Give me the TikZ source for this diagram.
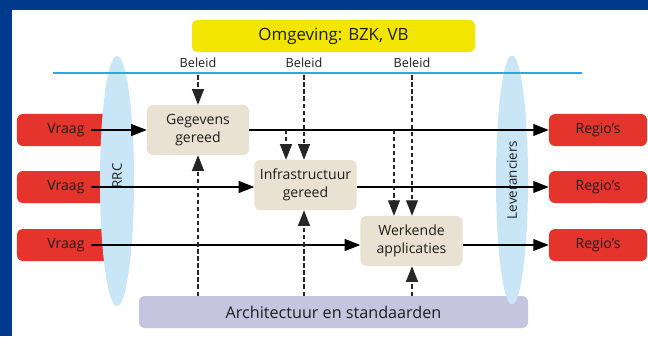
\documentclass[tikz,border=0pt]{standalone}
\usepackage{fontspec}
\setmainfont{Open Sans}
\usepackage{tikz}
\usetikzlibrary{arrows.meta, calc, positioning}

\definecolor{kader}{RGB}{0,58,140}
\definecolor{geel}{RGB}{242,230,0}
\definecolor{rood}{RGB}{228,52,44}
\definecolor{beige}{RGB}{233,226,210}
\definecolor{lichtblauw}{RGB}{200,230,246}
\definecolor{lijnblauw}{RGB}{41,169,224}
\definecolor{lila}{RGB}{197,197,224}
\definecolor{tekst}{RGB}{30,30,30}

\begin{document}
\begin{tikzpicture}[x=0.025cm, y=-0.025cm,
  stap/.style={fill=beige, rounded corners=0.15cm, minimum width=2.55cm, minimum height=1.25cm,
    align=center, text=tekst, font=\fontsize{10}{12.5}\selectfont, inner sep=0pt},
  vraagbox/.style={fill=rood, rounded corners=0.15cm, minimum width=2.45cm, minimum height=0.8cm,
    text=tekst, font=\fontsize{10}{12}\selectfont, inner sep=0pt},
  balk/.style={rounded corners=0.15cm, minimum width=7.075cm, minimum height=0.8cm, text=tekst, inner sep=0pt},
  pijl/.style={-{Triangle[length=11pt, width=8.5pt]}, line width=0.8pt},
  stippel/.style={pijl, dash pattern=on 3pt off 2pt, draw=black!85},
  beleid/.style={text=tekst, font=\fontsize{9}{11}\selectfont}]
\useasboundingbox (0,0) rectangle (648,336);
\fill[kader] (0,0) rectangle (648,336);
\fill[white] (12,10) rectangle (648,336);

% omgeving en architectuur
\node[balk, fill=geel, font=\fontsize{12}{14}\selectfont] (omg) at (333.5,36) {Omgeving: BZK, VB};
\node[balk, fill=lila, minimum width=9.725cm, font=\fontsize{11.5}{14}\selectfont] (arch) at (333.5,312) {Architectuur en standaarden};

% vraag
\node[vraagbox] (vraag1) at (66,130) {Vraag};
\node[vraagbox] (vraag2) at (66,187) {Vraag};
\node[vraagbox] (vraag3) at (66,245) {Vraag};

% ellipsen
\fill[lichtblauw] (117,181) ellipse [x radius=0.425cm, y radius=3.125cm];
\fill[lichtblauw] (512,180) ellipse [x radius=0.4cm, y radius=3.11cm];
\node[rotate=90, text=tekst, font=\fontsize{9.5}{11}\selectfont] (rrc) at (117,176) {RRC};
\node[rotate=90, text=tekst, font=\fontsize{9.5}{11}\selectfont] (lev) at (512,180) {Leveranciers};

% beleid
\coordinate (lijnL) at (53,73);
\coordinate (lijnR) at (582,73);
\draw[lijnblauw, line width=1pt] (lijnL) -- (lijnR);
\node[beleid] (bel1) at (198,63) {Beleid};
\node[beleid] (bel2) at (304,63) {Beleid};
\node[beleid] (bel3) at (412,63) {Beleid};

% stappen
\node[stap] (geg) at (198,130) {Gegevens\\gereed};
\node[stap] (infra) at (305.5,185) {Infrastructuur\\gereed};
\node[stap] (werk) at (411.5,241) {Werkende\\applicaties};

% regio's
\node[vraagbox] (regio1) at (598,130) {Regio’s};
\node[vraagbox] (regio2) at (598,187) {Regio’s};
\node[vraagbox] (regio3) at (598,245) {Regio’s};

% stromen
\draw[pijl, shorten <=-0.6cm] (vraag1.east) -- (geg.west);
\draw[pijl] (geg.east) -- (regio1.west);
\draw[pijl, shorten <=-0.6cm] (vraag2.east) -- (vraag2.east -| infra.west);
\draw[pijl] (infra.east |- regio2) -- (regio2.west);
\draw[pijl, shorten <=-0.6cm] (vraag3.east) -- (vraag3.east -| werk.west);
\draw[pijl] (werk.east |- regio3) -- (regio3.west);

% beleid naar beneden
\draw[stippel, shorten <=0.06cm] (bel1 |- lijnL) -- (geg.north);
\draw[stippel, shorten <=0.06cm] (bel2 |- lijnL) -- (bel2 |- infra.north);
\draw[stippel, shorten <=0.06cm] (bel3 |- lijnL) -- (bel3 |- werk.north);
\coordinate (a2) at (286,130);
\coordinate (a3) at (394,130);
\draw[stippel] (a2) -- (a2 |- infra.north);
\draw[stippel] (a3) -- (a3 |- werk.north);

% architectuur naar boven
\draw[stippel] (geg |- arch.north) -- (geg.south);
\draw[stippel] (bel2 |- arch.north) -- (bel2 |- infra.south);
\draw[stippel] (bel3 |- arch.north) -- (bel3 |- werk.south);
\end{tikzpicture}
\end{document}
